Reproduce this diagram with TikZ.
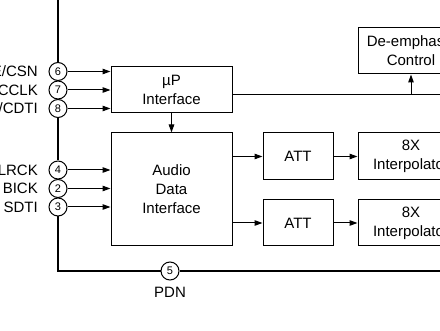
\documentclass[tikz,border=0pt]{standalone}
\usepackage{fontspec}
\setmainfont{Liberation Sans}
\usetikzlibrary{arrows.meta}
\begin{document}
\begin{tikzpicture}[x=1pt,y=-1pt,
  thin line/.style={line width=1pt,draw=black},
  thick line/.style={line width=1.8pt,draw=black},
  arr/.style={thin line,-{Triangle[length=8pt,width=5.5pt]}},
  blk/.style={draw=black,line width=1pt,inner sep=0pt,align=center,font=\fontsize{15}{19}\selectfont},
  pin/.style={circle,draw=black,line width=1pt,minimum size=18pt,inner sep=0pt,font=\fontsize{11}{13}\selectfont},
  lbl/.style={anchor=base east,inner sep=0pt,font=\fontsize{15}{18}\selectfont}]
\useasboundingbox (0,0) rectangle (440,331);
\clip (0,0) rectangle (440,331);
% pins
\node[pin] (p6) at (58,71.5) {6};
\node[pin] (p7) at (58,90) {7};
\node[pin] (p8) at (58,108.5) {8};
\node[pin] (p4) at (58,170) {4};
\node[pin] (p2) at (58,188.5) {2};
\node[pin] (p3) at (58,207) {3};
\node[pin] (p5) at (170,271) {5};
\coordinate (top) at (58,-5);
\coordinate (corner) at (58,271);
\coordinate (rightend) at (450,271);
% labels
\node[lbl] (l6) at (38,77) {E/CSN};
\node[lbl] (l7) at (38,95.5) {CCLK};
\node[lbl] (l8) at (38,114) {/CDTI};
\node[lbl] (l4) at (38,175.5) {LRCK};
\node[lbl] (l2) at (38,194) {BICK};
\node[lbl] (l3) at (38,212.5) {SDTI};
\node[anchor=base,inner sep=0pt,font=\fontsize{15}{18}\selectfont] (lpdn) at (170,298) {PDN};
% boxes
\node[blk,minimum width=121pt,minimum height=46pt] (up) at (171.5,90) {µP\\Interface};
\node[blk,minimum width=121pt,minimum height=113pt] (adi) at (171.5,189.5) {Audio\\Data\\Interface};
\node[blk,minimum width=70pt,minimum height=47pt] (att1) at (298,156.5) {ATT};
\node[blk,minimum width=70pt,minimum height=46pt] (att2) at (298,223) {ATT};
\node[blk,minimum width=106pt,minimum height=47pt] (int1) at (411,156.5) {8X\\Interpolator};
\node[blk,minimum width=106pt,minimum height=46pt] (int2) at (411,223) {8X\\Interpolator};
\node[blk,minimum width=106pt,minimum height=46pt] (dem) at (411,51) {De-emphasis\\Control};
% thick outline
\draw[thick line] (top) -- (p6.north);
\draw[thick line] (p8.south) -- (p4.north);
\draw[thick line] (p3.south) -- (corner) -- (p5.west);
\draw[thick line] (p5.east) -- (rightend);
% inputs
\draw[arr] (p6.east) -- (up.west |- p6);
\draw[arr] (p7.east) -- (up.west |- p7);
\draw[arr] (p8.east) -- (up.west |- p8);
\draw[arr] (p4.east) -- (adi.west |- p4);
\draw[arr] (p2.east) -- (adi.west |- p2);
\draw[arr] (p3.east) -- (adi.west |- p3);
% internal
\draw[arr] (up.south) -- (adi.north);
\coordinate (bus) at (up.east |- 0,95);
\coordinate (busend) at (450,95);
\coordinate (tap) at (dem.south |- bus);
\draw[thin line] (bus) -- (busend);
\draw[arr] (tap) -- (dem.south);
\draw[arr] (adi.east |- att1) -- (att1.west);
\draw[arr] (adi.east |- att2) -- (att2.west);
\draw[arr] (att1.east) -- (int1.west);
\draw[arr] (att2.east) -- (int2.west);
\end{tikzpicture}
\end{document}
